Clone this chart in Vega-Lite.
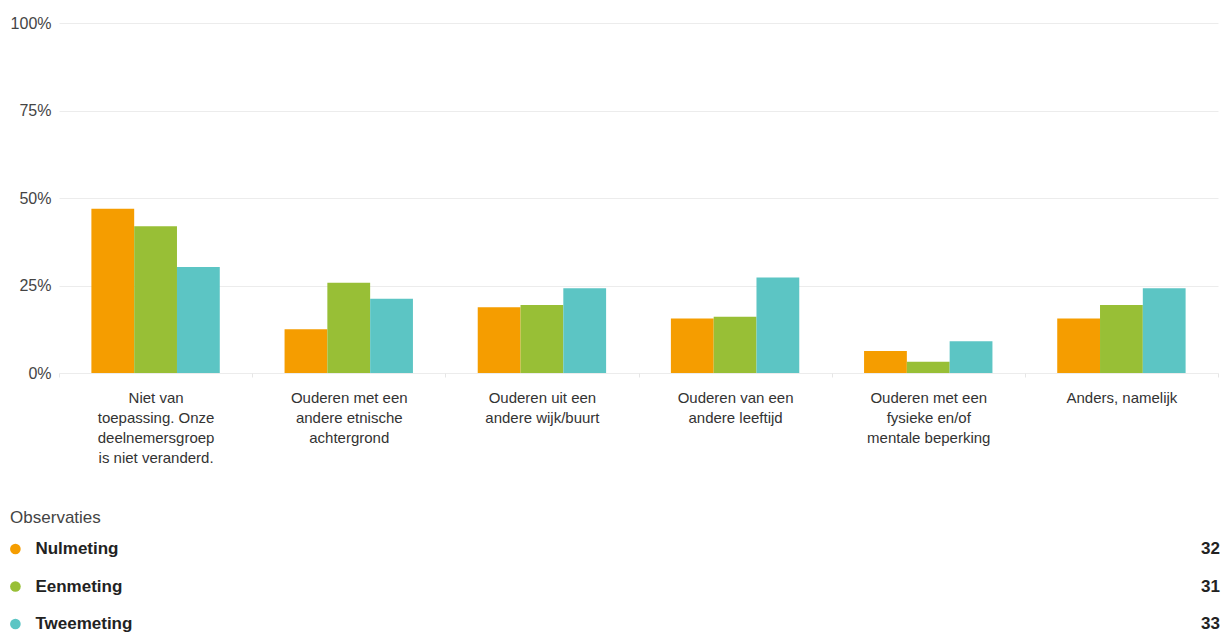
{
  "$schema": "https://vega.github.io/schema/vega-lite/v6.json",
  "padding": {"left": 10, "top": 15, "right": 5, "bottom": 5},
  "config": {"view": {"stroke": null}, "font": "Liberation Sans"},
  "datasets": {
    "bars": [
      {"category": "Niet van toepassing. Onze deelnemersgroep is niet veranderd.", "series": "Nulmeting", "value": 46.9},
      {"category": "Niet van toepassing. Onze deelnemersgroep is niet veranderd.", "series": "Eenmeting", "value": 41.9},
      {"category": "Niet van toepassing. Onze deelnemersgroep is niet veranderd.", "series": "Tweemeting", "value": 30.3},
      {"category": "Ouderen met een andere etnische achtergrond", "series": "Nulmeting", "value": 12.5},
      {"category": "Ouderen met een andere etnische achtergrond", "series": "Eenmeting", "value": 25.8},
      {"category": "Ouderen met een andere etnische achtergrond", "series": "Tweemeting", "value": 21.2},
      {"category": "Ouderen uit een andere wijk/buurt", "series": "Nulmeting", "value": 18.8},
      {"category": "Ouderen uit een andere wijk/buurt", "series": "Eenmeting", "value": 19.4},
      {"category": "Ouderen uit een andere wijk/buurt", "series": "Tweemeting", "value": 24.2},
      {"category": "Ouderen van een andere leeftijd", "series": "Nulmeting", "value": 15.6},
      {"category": "Ouderen van een andere leeftijd", "series": "Eenmeting", "value": 16.1},
      {"category": "Ouderen van een andere leeftijd", "series": "Tweemeting", "value": 27.3},
      {"category": "Ouderen met een fysieke en/of mentale beperking", "series": "Nulmeting", "value": 6.3},
      {"category": "Ouderen met een fysieke en/of mentale beperking", "series": "Eenmeting", "value": 3.2},
      {"category": "Ouderen met een fysieke en/of mentale beperking", "series": "Tweemeting", "value": 9.1},
      {"category": "Anders, namelijk", "series": "Nulmeting", "value": 15.6},
      {"category": "Anders, namelijk", "series": "Eenmeting", "value": 19.4},
      {"category": "Anders, namelijk", "series": "Tweemeting", "value": 24.2}
    ],
    "obs": [
      {"series": "Nulmeting", "n": 32},
      {"series": "Eenmeting", "n": 31},
      {"series": "Tweemeting", "n": 33}
    ]
  },
  "columns": 1,
  "spacing": 44,
  "concat": [
    {
      "data": {"name": "bars"},
      "width": 1159,
      "height": 350,
      "mark": {"type": "bar"},
      "encoding": {
        "x": {
          "field": "category",
          "type": "nominal",
          "sort": [
            "Niet van toepassing. Onze deelnemersgroep is niet veranderd.",
            "Ouderen met een andere etnische achtergrond",
            "Ouderen uit een andere wijk/buurt",
            "Ouderen van een andere leeftijd",
            "Ouderen met een fysieke en/of mentale beperking",
            "Anders, namelijk"
          ],
          "scale": {"paddingInner": 0, "paddingOuter": 0},
          "axis": {
            "title": null,
            "labelAngle": 0,
            "labelExpr": "datum.value == 'Niet van toepassing. Onze deelnemersgroep is niet veranderd.' ? ['Niet van','toepassing. Onze','deelnemersgroep','is niet veranderd.'] : datum.value == 'Ouderen met een andere etnische achtergrond' ? ['Ouderen met een','andere etnische','achtergrond'] : datum.value == 'Ouderen uit een andere wijk/buurt' ? ['Ouderen uit een','andere wijk/buurt'] : datum.value == 'Ouderen van een andere leeftijd' ? ['Ouderen van een','andere leeftijd'] : datum.value == 'Ouderen met een fysieke en/of mentale beperking' ? ['Ouderen met een','fysieke en/of','mentale beperking'] : datum.value",
            "labelFontSize": 15,
            "labelColor": "#333",
            "labelLineHeight": 20,
            "labelPadding": 13,
            "labelOverlap": false,
            "labelLimit": 0,
            "labelBaseline": "top",
            "domain": false,
            "ticks": true,
            "tickBand": "extent",
            "tickSize": 4,
            "tickColor": "#e6e6e6"
          }
        },
        "xOffset": {
          "field": "series",
          "sort": ["Nulmeting", "Eenmeting", "Tweemeting"],
          "scale": {"paddingInner": 0, "paddingOuter": 0.757}
        },
        "y": {
          "field": "value",
          "type": "quantitative",
          "scale": {"domain": [0, 100]},
          "axis": {
            "title": null,
            "values": [0, 25, 50, 75, 100],
            "labelExpr": "datum.value + '%'",
            "labelFontSize": 16,
            "labelColor": "#444",
            "domain": false,
            "ticks": false,
            "gridColor": "#ececec",
            "labelPadding": 8
          }
        },
        "color": {
          "field": "series",
          "type": "nominal",
          "scale": {"domain": ["Nulmeting", "Eenmeting", "Tweemeting"], "range": ["#F59D00", "#98BF36", "#5CC5C4"]},
          "legend": null
        }
      }
    },
    {
      "data": {"name": "obs"},
      "width": 1159,
      "height": 75,
      "title": {"text": "Observaties", "anchor": "start", "frame": "bounds", "fontSize": 17, "fontWeight": "normal", "color": "#444", "offset": 13},
      "encoding": {
        "y": {"field": "series", "type": "nominal", "sort": ["Nulmeting", "Eenmeting", "Tweemeting"], "scale": {"type": "point", "padding": 0}, "axis": null}
      },
      "layer": [
        {
          "mark": {"type": "circle", "size": 113, "opacity": 1},
          "encoding": {
            "x": {"datum": 0, "type": "quantitative", "scale": {"domain": [0, 1], "range": [-43.6, 1161], "nice": false, "zero": false}, "axis": null},
            "color": {
              "field": "series",
              "type": "nominal",
              "scale": {"domain": ["Nulmeting", "Eenmeting", "Tweemeting"], "range": ["#F59D00", "#98BF36", "#5CC5C4"]},
              "legend": null
            }
          }
        },
        {
          "mark": {"type": "text", "align": "left", "dx": 20, "fontSize": 17, "fontWeight": "bold", "color": "#222"},
          "encoding": {
            "x": {"datum": 0, "type": "quantitative"},
            "text": {"field": "series"}
          }
        },
        {
          "mark": {"type": "text", "align": "right", "fontSize": 17, "fontWeight": "bold", "color": "#222"},
          "encoding": {
            "x": {"datum": 1, "type": "quantitative"},
            "text": {"field": "n"}
          }
        }
      ]
    }
  ]
}
